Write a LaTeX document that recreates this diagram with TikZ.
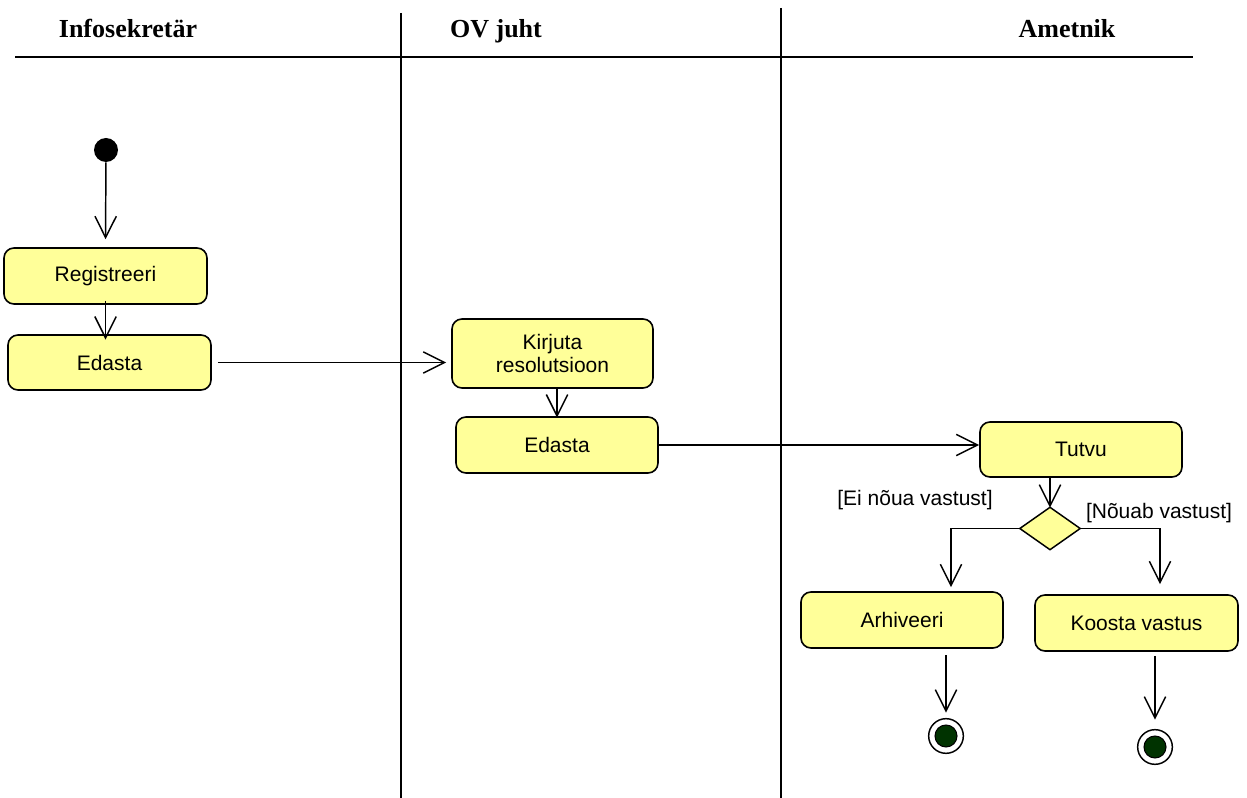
\documentclass[tikz,border=0pt]{standalone}
\usepackage{fontspec}
\setmainfont{Liberation Serif}
\newfontfamily\arialf{Liberation Sans}
\usetikzlibrary{arrows.meta,shapes.geometric}
\definecolor{boxyellow}{HTML}{FFFF99}
\definecolor{endgreen}{HTML}{003300}
\tikzset{
  act/.style={draw, fill=boxyellow, rounded corners=7.5pt, line width=1.2pt, inner sep=0pt,
    font=\arialf\fontsize{15.75}{17.25}\selectfont, align=center},
  lane/.style={line width=1.4pt},
  hdr/.style={font=\bfseries\fontsize{19.5}{22}\selectfont, inner sep=0pt, anchor=base},
  flow/.style={line width=1.1pt, -{Straight Barb[length=16pt,width=16pt,line width=1.1pt]}},
  plain/.style={line width=1.1pt},
  guard/.style={font=\arialf\fontsize{15.75}{17.25}\selectfont, inner sep=0pt},
  endouter/.style={circle, draw, fill=white, line width=1.1pt, minimum size=26pt, inner sep=0pt},
  endinner/.style={circle, draw, fill=endgreen, line width=0.8pt, minimum size=16.5pt, inner sep=0pt},
}
\begin{document}
\begin{tikzpicture}[x=0.75pt,y=-0.75pt]
\useasboundingbox (0,0) rectangle (1247,798);
% swimlanes
\draw[lane] (15,57) -- (1193,57);
\draw[lane] (401,13) -- (401,798);
\draw[lane] (781,8) -- (781,798);
\node[hdr] (h1) at (128,38) {Infosekretär};
\node[hdr] (h2) at (496,38) {OV juht};
\node[hdr] (h3) at (1067,38) {Ametnik};
% nodes
\node[circle, fill=black, minimum size=18pt, inner sep=0pt] (init) at (106,150) {};
\node[act, minimum width=152.25pt, minimum height=42pt] (reg) at (105.5,276) {Registreeri};
\node[act, minimum width=152.25pt, minimum height=41.25pt] (ed1) at (109.5,362.5) {Edasta};
\node[act, minimum width=150.75pt, minimum height=51.75pt] (kir) at (552.5,353.5) {Kirjuta\\resolutsioon};
\node[act, minimum width=151.5pt, minimum height=42pt] (ed2) at (557,445) {Edasta};
\node[act, minimum width=151.5pt, minimum height=41.25pt] (tut) at (1081,449.5) {Tutvu};
\node[diamond, draw, fill=boxyellow, line width=1.1pt, inner sep=0pt, minimum width=45.75pt, minimum height=32.25pt] (dia) at (1050,528.5) {};
\node[act, minimum width=151.5pt, minimum height=42pt] (arh) at (902,620) {Arhiveeri};
\node[act, minimum width=152.25pt, minimum height=42pt] (koo) at (1136.5,623) {Koosta vastus};
\node[endouter] (end1) at (946,736) {};
\node[endinner] (end1i) at (end1) {};
\node[endouter] (end2) at (1155,747) {};
\node[endinner] (end2i) at (end2) {};
\coordinate (lb) at (951,528.5);
\coordinate (rb) at (1160,528.5);
% guards
\node[guard] (g1) at (915,500) {[Ei nõua vastust]};
\node[guard] (g2) at (1159,513) {[Nõuab vastust]};
% flows
\draw[flow, shorten >=6pt] (init) -- (reg.north);
\draw[flow, shorten <=-3pt, shorten >=-4pt] (reg.south) -- (ed1.north -| reg.south);
\draw[flow, shorten <=4.5pt, shorten >=3.75pt] (ed1.east) -- (kir.west |- ed1.east);
\draw[flow, shorten >=-1pt] (kir.south -| ed2.north) -- (ed2.north);
\draw[flow] (ed2.east) -- (tut.west |- ed2.east);
\draw[flow, shorten >=-1pt] (dia.north |- tut.south) -- (dia.north);
\draw[plain] (dia.west) -- (lb);
\draw[flow, shorten >=3pt] (lb) -- (lb |- arh.north);
\draw[plain] (dia.east) -- (rb);
\draw[flow, shorten >=7.5pt] (rb) -- (rb |- koo.north);
\draw[flow, shorten <=5pt, shorten >=4pt] (arh.south -| end1) -- (end1.north);
\draw[flow, shorten <=3pt, shorten >=7pt] (koo.south -| end2) -- (end2.north);
\end{tikzpicture}
\end{document}
